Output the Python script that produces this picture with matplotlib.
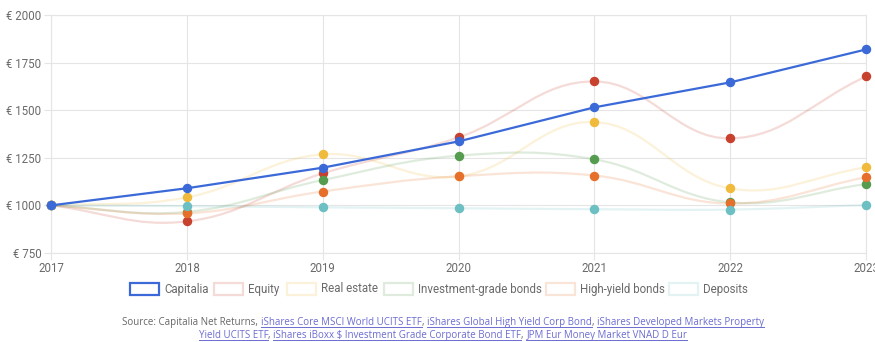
import numpy as np
import matplotlib
matplotlib.use("Agg")
import matplotlib.pyplot as plt
from matplotlib.path import Path
from matplotlib.patches import PathPatch, Rectangle
from matplotlib.lines import Line2D

# ---- data -------------------------------------------------------------
years = [2017, 2018, 2019, 2020, 2021, 2022, 2023]
capitalia = [1000, 1090, 1198, 1336, 1515, 1646, 1819]
equity = [1000, 916, 1168, 1357, 1651, 1352, 1677]
real_estate = [1000, 1042, 1268, 1152, 1438, 1089, 1200]
ig_bonds = [1000, 966, 1133, 1261, 1242, 1016, 1112]
hy_bonds = [1000, 958, 1073, 1153, 1157, 1010, 1148]
deposits = [1000, 996, 990, 985, 980, 978, 1002]

series_names = ["Capitalia", "Equity", "Real estate", "Investment-grade bonds",
                "High-yield bonds", "Deposits"]
series_values = [capitalia, equity, real_estate, ig_bonds, hy_bonds, deposits]
series_colors = ["#3b6ad8", "#c8412f", "#f0bb3c", "#559c4f", "#e6702b", "#6cbfc2"]

y_ticks = [750, 1000, 1250, 1500, 1750, 2000]
y_tick_labels = ["€ 750", "€ 1000", "€ 1250", "€ 1500", "€ 1750", "€ 2000"]

source_prefix = "Source: Capitalia Net Returns, "
source_line1_links = ["iShares Core MSCI World UCITS ETF",
                      "iShares Global High Yield Corp Bond",
                      "iShares Developed Markets Property"]
source_line2_links = ["Yield UCITS ETF",
                      "iShares iBoxx $ Investment Grade Corporate Bond ETF",
                      "JPM Eur Money Market VNAD D Eur"]

# ---- figure -------------------------------------------------------------
W, H, DPI = 875, 342, 100
fig = plt.figure(figsize=(W / DPI, H / DPI), dpi=DPI)
ax = fig.add_axes([51 / W, 1 - 253 / H, 815 / W, 238 / H])
ax.set_xlim(years[0], years[-1])
ax.set_ylim(750, 2000)

grid_c = "#e5e5e5"
label_c = "#6a6a6a"
ax.set_xticks(years)
ax.set_xticklabels([str(y) for y in years])
ax.set_yticks(y_ticks)
ax.set_yticklabels(y_tick_labels)
ax.grid(True, color=grid_c, lw=0.8, zorder=0)
for s in ax.spines.values():
    s.set_color(grid_c)
    s.set_linewidth(0.8)
ax.tick_params(axis="both", colors=grid_c, length=5, width=0.8,
               labelcolor=label_c, labelsize=8.3)
ax.tick_params(axis="y", pad=2)
ax.tick_params(axis="x", pad=1.5)
for lab in ax.get_xticklabels() + ax.get_yticklabels():
    lab.set_fontfamily("Roboto")


def spline_path(xs, ys, tension=0.4):
    """Cardinal-style bezier through the points, computed in pixel space."""
    pts = ax.transData.transform(np.column_stack([xs, ys]))
    n = len(pts)
    cp_prev = np.zeros_like(pts)
    cp_next = np.zeros_like(pts)
    for i in range(n):
        prv = pts[max(i - 1, 0)]
        cur = pts[i]
        nxt = pts[min(i + 1, n - 1)]
        d01 = np.hypot(*(cur - prv))
        d12 = np.hypot(*(nxt - cur))
        tot = d01 + d12
        s01 = d01 / tot if tot else 0.0
        s12 = d12 / tot if tot else 0.0
        cp_prev[i] = cur - tension * s01 * (nxt - prv)
        cp_next[i] = cur + tension * s12 * (nxt - prv)
    verts = [pts[0]]
    codes = [Path.MOVETO]
    for i in range(n - 1):
        verts += [cp_next[i], cp_prev[i + 1], pts[i + 1]]
        codes += [Path.CURVE4] * 3
    verts = ax.transData.inverted().transform(np.array(verts))
    return Path(verts, codes)


line_alpha = 0.19

# faint smoothed benchmark lines
for name, vals, col in list(zip(series_names, series_values, series_colors))[1:]:
    p = spline_path(years, vals)
    ax.add_patch(PathPatch(p, fill=False, edgecolor=col, alpha=line_alpha, lw=1.6,
                           zorder=2, capstyle="round", joinstyle="round"))

# markers for benchmarks
for name, vals, col in list(zip(series_names, series_values, series_colors))[1:]:
    ax.plot(years, vals, ls="none", marker="o", ms=5.8, color=col,
            mec=col, zorder=4, clip_on=False)

# Capitalia: straight line with markers
ax.plot(years, capitalia, color=series_colors[0], lw=1.6, marker="o", ms=5.8,
        zorder=5, clip_on=False)

# ---- legend -------------------------------------------------------------
def px(x, y):
    return x / W, 1 - y / H

legend_y = 289
box_x = [130, 214, 287, 384, 546, 669]
for i, (name, col) in enumerate(zip(series_names, series_colors)):
    x0 = box_x[i]
    alpha = 1.0 if i == 0 else line_alpha
    bx, by = px(x0, legend_y + 6)
    fig.patches.append(Rectangle((bx, by), 29 / W, 12 / H, transform=fig.transFigure,
                                 facecolor="none", edgecolor=col, lw=1.6,
                                 alpha=alpha))
    tx, ty = px(x0 + 34, legend_y)
    fig.text(tx, ty, name, ha="left", va="center", fontsize=8.3,
             family="Roboto", color=label_c)

# ---- source line with underlined links -----------------------------------
fig.canvas.draw()
renderer = fig.canvas.get_renderer()
grey = "#666666"
link_c = "#6c6cd2"
src_fs = 7.05
src_font = "Open Sans"


def build_line(pieces):
    """Create text pieces, measure them; return artists and their widths."""
    arts = []
    for txt, is_link in pieces:
        t = fig.text(0, 0, txt, fontsize=src_fs, family=src_font,
                     color=link_c if is_link else grey, ha="left",
                     va="baseline", parse_math=False)
        arts.append((t, is_link))
    widths = [t.get_window_extent(renderer).width for t, _ in arts]
    return arts, widths


def place_line(pieces, baseline_y, center_x):
    arts, widths = build_line(pieces)
    total = sum(widths)
    x = center_x - total / 2
    for (t, is_link), w in zip(arts, widths):
        t.set_position(px(x, baseline_y))
        if is_link:
            ux0, uy = px(x, baseline_y + 2)
            ux1, _ = px(x + w, baseline_y + 2)
            fig.add_artist(Line2D([ux0, ux1], [uy, uy], transform=fig.transFigure,
                                  color=link_c, lw=0.7))
        x += w


line1 = [(source_prefix, False)]
for j, lk in enumerate(source_line1_links):
    line1.append((lk, True))
    if j < len(source_line1_links) - 1:
        line1.append((", ", False))
line2 = []
for j, lk in enumerate(source_line2_links):
    line2.append((lk, True))
    if j < len(source_line2_links) - 1:
        line2.append((", ", False))

place_line(line1, 325, 443)
place_line(line2, 338, 443)

fig.savefig("out.png", dpi=DPI, facecolor="white")
